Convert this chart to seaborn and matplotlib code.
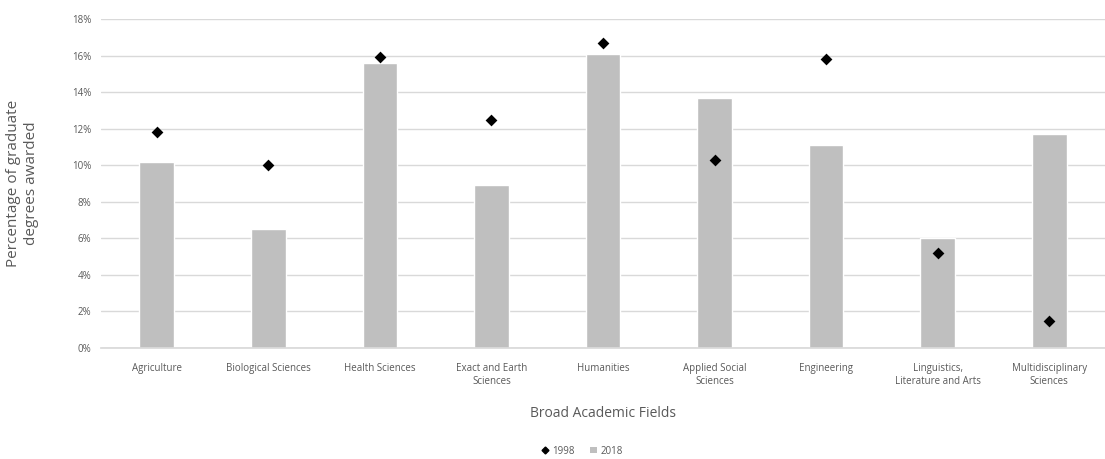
import numpy as np
import pandas as pd
import matplotlib
matplotlib.use("Agg")
import matplotlib.pyplot as plt
import seaborn as sns
from matplotlib.lines import Line2D
from matplotlib.patches import Patch
from matplotlib.ticker import FuncFormatter

# =========================
# Dados
# =========================
fields = [
    "Agriculture",
    "Biological Sciences",
    "Health Sciences",
    "Exact and Earth\nSciences",
    "Humanities",
    "Applied Social\nSciences",
    "Engineering",
    "Linguistics,\nLiterature and Arts",
    "Multidisciplinary\nSciences",
]
share_2018 = [10.2, 6.5, 15.6, 8.9, 16.1, 13.7, 11.1, 6.0, 11.7]
share_1998 = [11.8, 10.0, 15.9, 12.5, 16.7, 10.3, 15.8, 5.2, 1.5]
yticks = [0, 2, 4, 6, 8, 10, 12, 14, 16, 18]

df = pd.DataFrame({"field": fields, "y2018": share_2018, "y1998": share_1998})

sns.set_theme(style="white")
plt.rcParams["font.family"] = ["Open Sans", "DejaVu Sans"]

text_gray = "#595959"
fig = plt.figure(figsize=(11.05, 4.59), dpi=100)
ax = fig.add_axes([0.0914, 0.2418, 0.9086, 0.7168])

sns.barplot(data=df, x="field", y="y2018", color="#bfbfbf", saturation=1,
            width=0.31, ax=ax, zorder=2)
sns.stripplot(data=df, x="field", y="y1998", color="black", marker="D",
              size=6, jitter=False, ax=ax, zorder=3)

ax.set_ylim(0, 18)
ax.set_yticks(yticks)
ax.yaxis.set_major_formatter(FuncFormatter(lambda v, p: f"{v:.0f}%"))
ax.grid(axis="y", color="#d9d9d9", linewidth=1, zorder=0)
ax.set_axisbelow(True)
for s in ["top", "right", "left"]:
    ax.spines[s].set_visible(False)
ax.spines["bottom"].set_color("#d9d9d9")
ax.tick_params(axis="both", length=0, labelsize=7, colors=text_gray)
ax.tick_params(axis="x", pad=11)
ax.tick_params(axis="y", pad=7)

ax.set_xlabel("Broad Academic Fields", fontsize=10, color=text_gray, labelpad=14)
ax.set_ylabel("Percentage of graduate\ndegrees awarded", fontsize=11,
              color=text_gray, labelpad=24)

handles = [
    Line2D([], [], marker="D", color="black", linestyle="none", markersize=3.5),
    Patch(facecolor="#bfbfbf", edgecolor="none"),
]
fig.legend(handles, ["1998", "2018"], loc="center", bbox_to_anchor=(0.527, 0.017),
           ncol=2, frameon=False, fontsize=7, handlelength=0.7, handleheight=0.6,
           columnspacing=1.6, handletextpad=0.4, labelcolor=text_gray)

fig.savefig("out.png", dpi=100)
